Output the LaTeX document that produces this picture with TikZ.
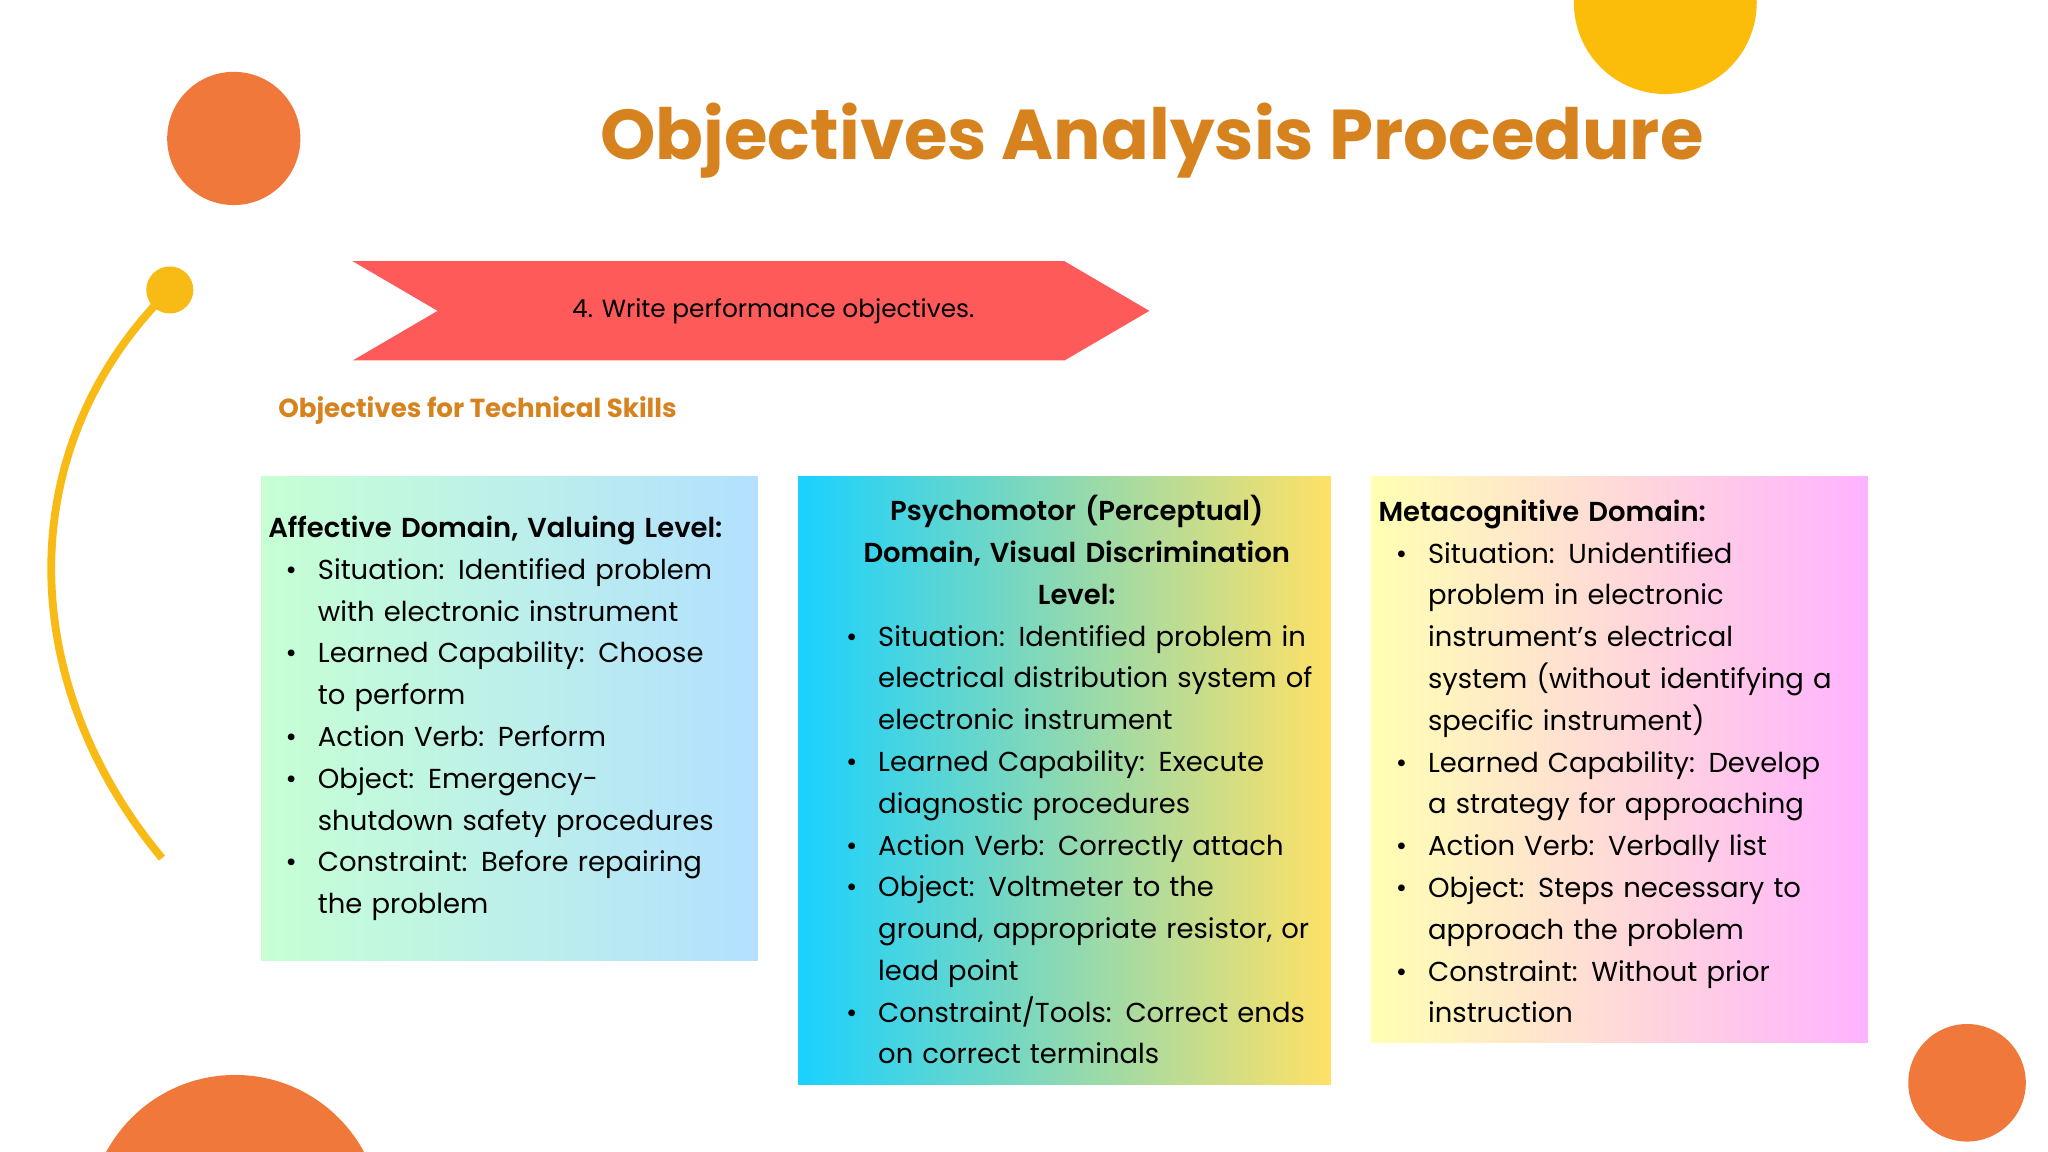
\documentclass[tikz,border=0pt]{standalone}
\usepackage{fontspec}
\setmainfont{Poppins}
\newfontfamily\popb{Poppins Bold}
\newfontfamily\popsb{Poppins SemiBold}
\definecolor{titleC}{HTML}{D6831F}
\definecolor{orangeC}{HTML}{F0783A}
\definecolor{yellowC}{HTML}{FCBC0A}
\definecolor{arcC}{HTML}{F8BA14}
\definecolor{bannerC}{HTML}{FF5A5A}
\newenvironment{blist}{\begin{list}{\textbullet}{\leftmargin=19pt\labelsep=8pt\itemsep=0pt\parsep=0pt\topsep=0pt\partopsep=0pt}}{\end{list}}
\begin{document}
\begin{tikzpicture}[x=0.5pt,y=-0.5pt,
  boxtext/.style={font=\fontsize{10.5}{16}\selectfont, text width=185pt, inner sep=0pt, align=left},
  dot/.style={fill=#1, draw=none}]
\useasboundingbox (0,0) rectangle (1568,882);
\fill[white] (0,0) rectangle (1568,882);
% decorations
\fill[orangeC] (179,106) circle (51);
\fill[yellowC] (1275,2) circle (70);
\fill[orangeC] (180,935) circle (112);
\fill[orangeC] (1506,829) circle (45);
\coordinate (arcTop) at (130,222);
\coordinate (arcBot) at (124,657);
\draw[arcC, line width=3pt] (arcBot) .. controls (10,520) and (10,340) .. (arcTop);
\fill[arcC] (arcTop) circle (18);
% title
\node[font=\popb\fontsize{27}{30}\selectfont, text=titleC, anchor=center] (title) at (882,108) {Objectives Analysis Procedure};
% banner
\fill[bannerC] (270,200) -- (815,200) -- (880,238) -- (815,276) -- (270,276) -- (335,238) -- cycle;
\node[font=\fontsize{9.5}{12}\selectfont] (banner) at (592,238) {4. Write performance objectives.};
\node[font=\popb\fontsize{10}{12}\selectfont, text=titleC, anchor=west] (sub) at (206,314) {Objectives for Technical Skills};
% boxes
\shade[left color=green!18!white!95!cyan, right color=blue!40!cyan!30!white] (200,365) rectangle (580,735);
\shade[left color=cyan!80!blue!90!white, right color=yellow!60!orange!60!white] (611,365) rectangle (1019,830);
\shade[left color=yellow!30!white, right color=magenta!30!white] (1050,365) rectangle (1430,798);
\node[boxtext, anchor=west] (b1) at (205,550) {{\popsb Affective Domain, Valuing Level:}
\begin{blist}
\item Situation: Identified problem\newline with electronic instrument
\item Learned Capability: Choose\newline to perform
\item Action Verb: Perform
\item Object: Emergency-\newline shutdown safety procedures
\item Constraint: Before repairing\newline the problem
\end{blist}};
\node[boxtext, anchor=west, text width=190pt] (b2) at (634,597) {{\centering\popsb Psychomotor (Perceptual)\\ Domain, Visual Discrimination\\ Level:\par}
\begin{blist}
\item Situation: Identified problem in\newline electrical distribution system of\newline electronic instrument
\item Learned Capability: Execute\newline diagnostic procedures
\item Action Verb: Correctly attach
\item Object: Voltmeter to the\newline ground, appropriate resistor, or\newline lead point
\item Constraint/Tools: Correct ends\newline on correct terminals
\end{blist}};
\node[boxtext, anchor=west] (b3) at (1055,583) {{\popsb Metacognitive Domain:}
\begin{blist}
\item Situation: Unidentified\newline problem in electronic\newline instrument’s electrical\newline system (without identifying a\newline specific instrument)
\item Learned Capability: Develop\newline a strategy for approaching
\item Action Verb: Verbally list
\item Object: Steps necessary to\newline approach the problem
\item Constraint: Without prior\newline instruction
\end{blist}};
\end{tikzpicture}
\end{document}
